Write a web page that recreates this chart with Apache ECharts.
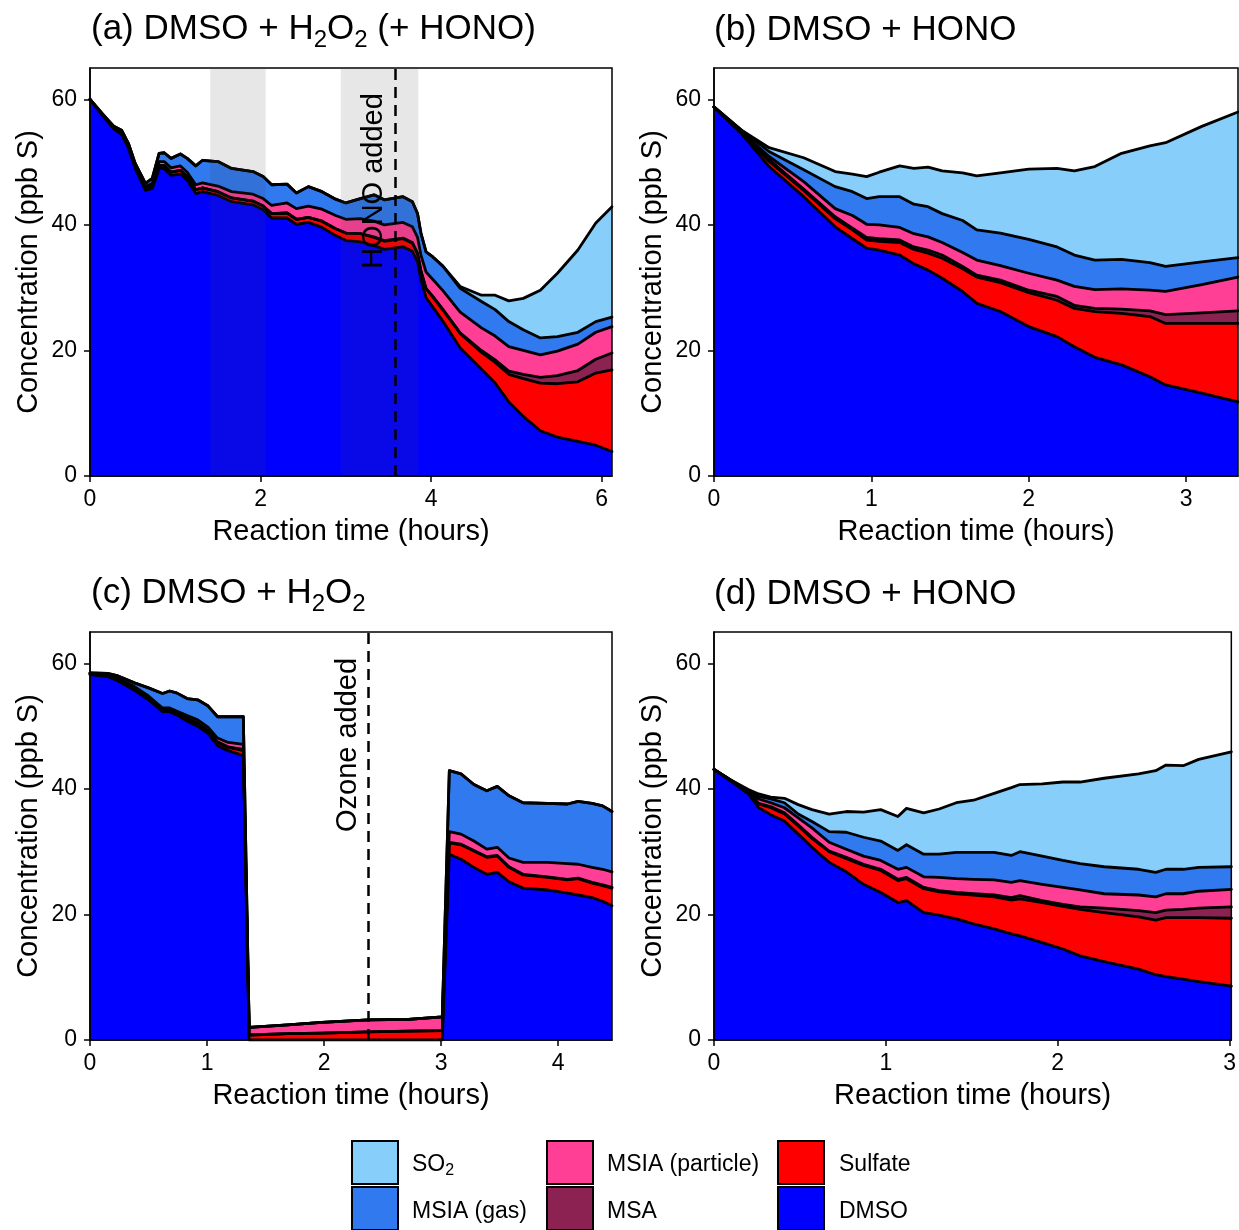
<!DOCTYPE html>
<html><head><meta charset="utf-8">
<script src="https://cdn.jsdelivr.net/npm/echarts@6/dist/echarts.min.js"></script>
<style>html,body{margin:0;padding:0;background:#fff}#c{width:1239px;height:1230px}</style>
</head><body><div id="c"></div>
<script>
// ---------- DATA ----------
const speciesNames = ['DMSO', 'Sulfate', 'MSA', 'MSIA (particle)', 'MSIA (gas)', 'SO2'];

// Panel (a) DMSO + H2O2 (+ HONO)
const timeA = [0, 0.16, 0.28, 0.37, 0.45, 0.53, 0.65, 0.73, 0.81, 0.87, 0.95, 1.06, 1.14, 1.24, 1.32, 1.50, 1.66, 1.91, 2.03, 2.13, 2.31, 2.42, 2.56, 2.72, 2.88, 3.00, 3.17, 3.33, 3.45, 3.67, 3.78, 3.84, 3.88, 3.94, 4.02, 4.14, 4.34, 4.59, 4.75, 4.91, 5.08, 5.28, 5.48, 5.72, 5.93, 6.12];
const dmsoA = [60, 57.2, 55.3, 54.4, 52.3, 49.0, 45.5, 45.8, 49.0, 49.0, 47.9, 48.1, 47.1, 45.0, 45.3, 44.7, 43.7, 43.2, 42.4, 41.1, 41.1, 40.1, 40.4, 39.6, 38.3, 37.5, 37.3, 36.7, 36.1, 36.5, 35.8, 34.1, 31.3, 28.4, 26.9, 24.6, 20.4, 17.0, 14.8, 11.8, 9.5, 7.2, 6.2, 5.5, 4.9, 3.9];
const sulfateA = [0, 0.1, 0.1, 0.2, 0.2, 0.2, 0.3, 0.4, 0.5, 0.5, 0.5, 0.6, 0.6, 0.6, 0.6, 0.6, 0.6, 0.6, 0.6, 0.7, 0.8, 0.8, 0.8, 1.0, 1.1, 1.2, 1.3, 1.3, 1.3, 1.3, 1.3, 1.3, 1.3, 1.4, 1.6, 1.8, 2.3, 2.7, 3.3, 4.4, 6.0, 7.6, 8.5, 9.5, 11.5, 13.0];
const msaA = [0, 0, 0, 0, 0, 0, 0, 0, 0, 0, 0, 0, 0, 0, 0, 0, 0, 0, 0, 0, 0, 0, 0, 0, 0, 0, 0, 0.1, 0.1, 0.1, 0.1, 0.1, 0.1, 0.1, 0.1, 0.1, 0.1, 0.3, 0.4, 0.5, 0.7, 0.9, 1.3, 1.8, 2.2, 2.7];
const msiaPartA = [0, 0.1, 0.1, 0.2, 0.2, 0.2, 0.3, 0.4, 0.6, 0.6, 0.7, 0.7, 0.7, 0.8, 0.8, 0.9, 1.0, 1.1, 1.2, 1.3, 1.6, 1.7, 1.8, 1.9, 2.1, 2.2, 2.4, 2.5, 2.5, 2.5, 2.5, 2.5, 2.5, 2.6, 2.7, 3.0, 3.3, 3.6, 3.8, 3.9, 3.8, 3.6, 3.9, 4.2, 4.3, 4.2];
const msiaGasA = [0, 0.1, 0.2, 0.3, 0.3, 0.4, 0.5, 0.8, 1.3, 1.4, 1.5, 1.9, 2.2, 3.0, 3.6, 3.9, 3.7, 3.6, 3.5, 3.3, 3.0, 2.5, 3.1, 2.8, 2.6, 2.6, 3.2, 4.2, 4.0, 4.1, 4.0, 3.8, 3.5, 3.2, 3.6, 3.9, 3.8, 4.2, 4.2, 4.0, 3.3, 2.7, 2.3, 1.9, 1.7, 1.5];
const so2A = [0, 0, 0, 0, 0, 0, 0, 0, 0, 0, 0, 0, 0, 0, 0, 0, 0, 0, 0, 0, 0, 0, 0, 0, 0, 0, 0, 0, 0, 0, 0, 0, 0, 0, 0, 0, 0.3, 1.0, 2.3, 3.3, 5.0, 7.6, 10.1, 13.1, 15.7, 17.6];

// Panel (b) DMSO + HONO
const timeB = [0, 0.18, 0.35, 0.57, 0.77, 0.88, 0.97, 1.05, 1.18, 1.27, 1.36, 1.45, 1.58, 1.67, 1.82, 2.00, 2.18, 2.29, 2.42, 2.59, 2.77, 2.87, 3.10, 3.33];
const dmsoB = [58.8, 54.4, 49.3, 44.5, 39.7, 37.8, 36.3, 36.0, 35.2, 33.8, 32.8, 31.5, 29.4, 27.5, 26.2, 23.8, 22.2, 20.6, 18.9, 17.7, 15.8, 14.5, 13.2, 11.8];
const sulfateB = [0, 0.2, 0.8, 1.0, 1.3, 1.4, 1.3, 1.4, 2.0, 2.3, 2.7, 3.2, 3.6, 4.2, 4.6, 5.4, 5.8, 6.1, 7.3, 8.2, 9.6, 9.8, 11.1, 12.5];
const msaB = [0, 0, 0.3, 0.2, 0.3, 0.3, 0.4, 0.4, 0.4, 0.4, 0.5, 0.5, 0.4, 0.3, 0.4, 0.4, 0.6, 0.5, 0.5, 0.7, 0.9, 1.4, 1.7, 2.0];
const msiaPartB = [0, 0.1, 0.5, 1.2, 1.3, 2.0, 2.1, 2.2, 2.0, 2.1, 2.1, 2.0, 2.2, 2.4, 2.3, 2.7, 2.6, 3.0, 3.0, 3.2, 3.3, 3.7, 4.5, 5.4];
const msiaGasB = [0, 0.3, 0.8, 1.9, 3.5, 3.8, 4.1, 4.5, 4.9, 4.7, 4.8, 4.6, 5.1, 4.8, 5.2, 5.4, 5.3, 5.0, 4.7, 4.7, 4.4, 4.0, 3.6, 3.1];
const so2B = [0, 0, 0.6, 1.9, 2.4, 2.8, 3.5, 3.9, 4.9, 5.7, 6.3, 6.8, 7.6, 8.6, 9.6, 11.2, 12.5, 13.4, 14.9, 16.9, 18.6, 19.7, 21.6, 23.2];

// Panel (c) DMSO + H2O2
const timeC = [0, 0.15, 0.24, 0.38, 0.50, 0.62, 0.68, 0.74, 0.83, 0.92, 1.01, 1.09, 1.18, 1.31, 1.36, 1.69, 1.98, 2.38, 2.72, 3.01, 3.07, 3.17, 3.28, 3.39, 3.48, 3.58, 3.70, 3.91, 4.08, 4.17, 4.29, 4.38, 4.46];
const dmsoC = [58.2, 57.9, 57.2, 55.7, 54.2, 52.3, 52.3, 51.8, 50.8, 50.0, 48.8, 46.9, 46.1, 45.3, 0, 0, 0, 0, 0, 0, 29.6, 28.8, 27.5, 26.4, 26.7, 25.2, 24.2, 23.9, 23.4, 23.1, 22.7, 22.1, 21.4];
const sulfateC = [0.1, 0.1, 0.2, 0.3, 0.3, 0.3, 0.3, 0.3, 0.4, 0.4, 0.4, 0.5, 0.5, 0.8, 0.8, 1.0, 1.1, 1.3, 1.4, 1.5, 1.8, 2.3, 2.6, 2.7, 2.6, 2.3, 2.1, 2.0, 2.1, 2.6, 2.3, 2.5, 2.8];
const msaC = [0, 0, 0, 0, 0, 0, 0, 0, 0.1, 0.1, 0.1, 0.1, 0.1, 0.2, 0, 0, 0, 0, 0, 0, 0.1, 0.1, 0.1, 0.1, 0.1, 0.1, 0.1, 0.1, 0.1, 0.1, 0.1, 0.1, 0.1];
const msiaPartC = [0.1, 0.1, 0.2, 0.3, 0.3, 0.3, 0.3, 0.3, 0.4, 0.5, 0.5, 0.6, 0.7, 0.8, 1.2, 1.4, 1.7, 1.9, 1.9, 2.2, 1.7, 1.6, 1.5, 1.2, 1.3, 1.4, 1.9, 2.3, 2.5, 2.2, 2.4, 2.5, 2.5];
const msiaGasC = [0.1, 0.3, 0.4, 0.6, 1.3, 2.3, 2.7, 2.9, 2.7, 3.2, 3.4, 3.4, 4.1, 4.4, 0, 0, 0, 0, 0, 0, 9.7, 9.6, 9.0, 9.3, 9.7, 9.9, 9.5, 9.4, 9.5, 10.0, 10.2, 10.1, 9.6];
const so2C = [0, 0, 0, 0, 0, 0, 0, 0, 0, 0, 0, 0, 0, 0, 0, 0, 0, 0, 0, 0, 0, 0, 0, 0, 0, 0, 0, 0, 0, 0, 0, 0, 0];

// Panel (d) DMSO + HONO
const timeD = [0, 0.10, 0.20, 0.26, 0.33, 0.41, 0.49, 0.57, 0.67, 0.77, 0.87, 0.97, 1.07, 1.12, 1.22, 1.31, 1.41, 1.51, 1.63, 1.73, 1.78, 1.91, 2.03, 2.13, 2.27, 2.47, 2.57, 2.63, 2.73, 2.82, 3.01];
const dmsoD = [43.1, 41.2, 39.2, 37.0, 35.9, 34.9, 32.8, 30.7, 28.3, 26.8, 24.8, 23.5, 21.9, 22.2, 20.3, 19.9, 19.3, 18.5, 17.7, 16.9, 16.6, 15.5, 14.5, 13.4, 12.5, 11.3, 10.4, 10.1, 9.7, 9.3, 8.6];
const sulfateD = [0, 0.1, 0.2, 0.6, 1.1, 1.1, 1.3, 1.4, 1.7, 2.1, 3.0, 3.5, 3.5, 3.5, 3.8, 3.7, 4.0, 4.6, 5.1, 5.4, 5.9, 6.4, 6.8, 7.4, 7.8, 8.3, 8.7, 9.4, 9.8, 10.2, 10.8];
const msaD = [0, 0, 0, 0.1, 0.2, 0.2, 0.2, 0.2, 0.1, 0.2, 0.2, 0.2, 0.2, 0.2, 0.2, 0.2, 0.2, 0.2, 0.3, 0.4, 0.5, 0.3, 0.3, 0.4, 0.7, 1.0, 1.2, 1.2, 1.3, 1.5, 1.8];
const msiaPartD = [0, 0, 0.1, 0.7, 0.6, 0.8, 1.1, 1.5, 1.4, 1.3, 1.3, 1.4, 1.6, 1.6, 1.7, 2.1, 2.2, 2.3, 2.4, 2.4, 2.4, 2.6, 2.7, 2.7, 2.3, 2.5, 2.5, 2.6, 2.5, 2.7, 2.8];
const msiaGasD = [0, 0.1, 0.2, 0.4, 0.6, 0.8, 0.6, 1.0, 1.7, 2.7, 3.0, 3.1, 3.0, 3.6, 3.6, 3.7, 4.2, 4.3, 4.4, 4.3, 4.6, 4.5, 4.3, 4.2, 4.3, 4.1, 3.9, 3.9, 3.9, 3.8, 3.6];
const so2D = [0, 0, 0.2, 0.4, 0.3, 0.7, 1.5, 1.9, 2.8, 3.3, 4.0, 5.0, 5.4, 5.8, 6.6, 7.2, 7.9, 8.3, 9.4, 10.8, 10.7, 11.5, 12.5, 13.0, 14.1, 15.2, 16.2, 16.6, 16.5, 17.2, 18.3];

// Axis ticks
const xTicksA = [0, 2, 4, 6];
const xTicksB = [0, 1, 2, 3];
const xTicksC = [0, 1, 2, 3, 4];
const xTicksD = [0, 1, 2, 3];
const yTicks = [0, 20, 40, 60];

// Events
const shadedA = [[1.41, 2.06], [2.94, 3.85]];
const honoTime = 3.58;
const ozoneTime = 2.38;

// ---------- STYLE ----------
const FONT = '"Liberation Sans", Arial, Helvetica, sans-serif';
const colors = ['#0000FF', '#FF0000', '#8B2252', '#FF3E96', '#3079EE', '#87CEFA'];

const panels = [
  { grid: { left: 90, top: 68, width: 522, height: 408 }, time: timeA, layers: [dmsoA, sulfateA, msaA, msiaPartA, msiaGasA, so2A], xMax: 6.12, xTicks: xTicksA,
    title: '{m|(a) DMSO + H}{s|2}{m|O}{s|2}{m| (+ HONO)}', tLeft: 91, tTop: 12 },
  { grid: { left: 714, top: 68, width: 524, height: 408 }, time: timeB, layers: [dmsoB, sulfateB, msaB, msiaPartB, msiaGasB, so2B], xMax: 3.33, xTicks: xTicksB,
    title: '{m|(b) DMSO + HONO}', tLeft: 714, tTop: 13 },
  { grid: { left: 90, top: 632, width: 522, height: 408 }, time: timeC, layers: [dmsoC, sulfateC, msaC, msiaPartC, msiaGasC, so2C], xMax: 4.46, xTicks: xTicksC,
    title: '{m|(c) DMSO + H}{s|2}{m|O}{s|2}', tLeft: 91, tTop: 576 },
  { grid: { left: 714, top: 632, width: 523, height: 408 }, time: timeD, layers: [dmsoD, sulfateD, msaD, msiaPartD, msiaGasD, so2D], xMax: 3.01, xTicks: xTicksD,
    title: '{m|(d) DMSO + HONO}', tLeft: 714, tTop: 577 }
];

const titleRich = {
  m: { fontSize: 35, lineHeight: 40, verticalAlign: 'top', fontFamily: FONT, color: '#000' },
  s: { fontSize: 24, lineHeight: 40, verticalAlign: 'bottom', fontFamily: FONT, color: '#000' }
};

const series = [];
panels.forEach((p, i) => {
  // cumulative (stacked) totals, bottom species first
  const cum = p.layers.map((_, k) => p.time.map((t, j) => {
    let s = 0;
    for (let m = 0; m <= k; m++) s += p.layers[m][j];
    return [t, Math.round(s * 1000) / 1000];
  }));
  for (let k = p.layers.length - 1; k >= 0; k--) {
    const s = {
      type: 'line', name: speciesNames[k], xAxisIndex: i, yAxisIndex: i,
      data: cum[k], symbol: 'none', showSymbol: false, silent: true,
      lineStyle: { width: 0 },
      itemStyle: { color: colors[k] },
      areaStyle: { color: colors[k], opacity: 1, origin: 'start' },
      z: 2
    };
    if (i === 0 && k === 0) {
      s.markArea = {
        silent: true, z: 10,
        itemStyle: { color: 'rgba(70,70,70,0.13)' },
        data: shadedA.map(r => [{ xAxis: r[0] }, { xAxis: r[1] }])
      };
    }
    series.push(s);
  }
  for (let k = 0; k < p.layers.length; k++) {
    const s = {
      type: 'line', name: speciesNames[k] + ' outline', xAxisIndex: i, yAxisIndex: i,
      data: cum[k], symbol: 'none', showSymbol: false, silent: true,
      lineStyle: { color: '#000', width: 2.8, join: 'round', cap: 'round' },
      z: 3
    };
    if (k === 0 && (i === 0 || i === 2)) {
      s.markLine = {
        silent: true, symbol: 'none', z: 12,
        label: { show: false },
        lineStyle: { color: '#000', type: [11, 7], width: 2.5 },
        data: [{ xAxis: i === 0 ? honoTime : ozoneTime }]
      };
    }
    series.push(s);
  }
});

const option = {
  animation: false,
  backgroundColor: '#fff',
  title: panels.map(p => ({
    text: p.title, left: p.tLeft, top: p.tTop, padding: 0,
    textStyle: { fontSize: 35, fontWeight: 'normal', fontFamily: FONT, color: '#000', rich: titleRich }
  })),
  grid: panels.map(p => Object.assign({}, p.grid, {
    show: true, borderColor: '#000', borderWidth: 1.5, backgroundColor: 'transparent', z: 10
  })),
  xAxis: panels.map((p, i) => ({
    type: 'value', gridIndex: i, min: 0, max: p.xMax,
    name: 'Reaction time (hours)', nameLocation: 'middle', nameGap: 41,
    nameTextStyle: { fontSize: 29, color: '#000', fontFamily: FONT },
    axisLine: { show: true, onZero: false, lineStyle: { color: '#000', width: 1.5 } },
    axisTick: { show: true, length: 6, lineStyle: { color: '#000', width: 1.5 }, customValues: p.xTicks },
    axisLabel: { fontSize: 23, color: '#000', fontFamily: FONT, margin: 12, customValues: p.xTicks },
    splitLine: { show: false }, z: 10
  })),
  yAxis: panels.map((p, i) => ({
    type: 'value', gridIndex: i, min: 0, max: 65,
    name: 'Concentration (ppb S)', nameLocation: 'middle', nameGap: 47,
    nameTextStyle: { fontSize: 29, color: '#000', fontFamily: FONT },
    axisLine: { show: true, onZero: false, lineStyle: { color: '#000', width: 1.5 } },
    axisTick: { show: true, length: 6, lineStyle: { color: '#000', width: 1.5 }, customValues: yTicks },
    axisLabel: { fontSize: 23, color: '#000', fontFamily: FONT, margin: 13, customValues: yTicks },
    splitLine: { show: false }, z: 10
  })),
  series: series
};

const chart = echarts.init(document.getElementById('c'), null, { renderer: 'canvas' });
chart.setOption(option);

// ---------- Legend (graphic swatches + text) ----------
const legendItems = [
  { k: 5, label: '{m|SO}{s|2}', col: 0, row: 0 },
  { k: 4, label: '{m|MSIA (gas)}', col: 0, row: 1 },
  { k: 3, label: '{m|MSIA (particle)}', col: 1, row: 0 },
  { k: 2, label: '{m|MSA}', col: 1, row: 1 },
  { k: 1, label: '{m|Sulfate}', col: 2, row: 0 },
  { k: 0, label: '{m|DMSO}', col: 2, row: 1 }
];
const legBoxX = [352, 547, 778], legTextX = [412, 607, 839], legBoxY = [1141, 1187], legTextY = [1163, 1210];
const legRich = {
  m: { fontSize: 23, lineHeight: 26, verticalAlign: 'top', fontFamily: FONT, color: '#000' },
  s: { fontSize: 16, lineHeight: 26, verticalAlign: 'bottom', fontFamily: FONT, color: '#000' }
};
const graphics = [];
legendItems.forEach(it => {
  graphics.push({ type: 'rect', z: 100, silent: true,
    shape: { x: legBoxX[it.col], y: legBoxY[it.row], width: 46, height: 43 },
    style: { fill: colors[it.k], stroke: '#000', lineWidth: 2 } });
  graphics.push({ type: 'text', z: 100, silent: true, x: legTextX[it.col], y: legTextY[it.row] - 10,
    style: { text: it.label, rich: legRich, fontSize: 23, fontFamily: FONT, fill: '#000', align: 'left', verticalAlign: 'top' } });
});

// ---------- Annotations ----------
const annotations = [
  { panel: 0, x: honoTime, y: 47, text: 'HONO added' },
  { panel: 2, x: ozoneTime, y: 47, text: 'Ozone added' }
];
annotations.forEach(a => {
  const px = chart.convertToPixel({ gridIndex: a.panel }, [a.x, a.y]);
  graphics.push({ type: 'text', z: 100, silent: true, x: px[0] - 21, y: px[1], rotation: Math.PI / 2,
    style: { text: a.text, fontSize: 29, fontFamily: FONT, fill: '#000', align: 'center', verticalAlign: 'middle' } });
});
chart.setOption({ graphic: graphics });
</script>
</body></html>
